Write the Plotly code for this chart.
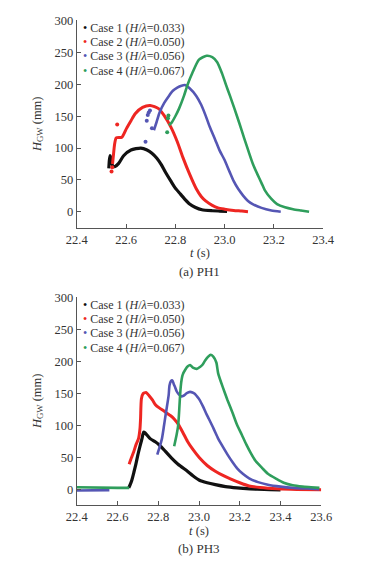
import plotly.graph_objects as go

# ---------------- DATA ----------------
# Panel (a) PH1
ph1_c1_t = [22.530, 22.532, 22.535, 22.538, 22.542, 22.548, 22.555, 22.570, 22.590, 22.620, 22.660, 22.685, 22.705,
            22.725, 22.743, 22.760, 22.782, 22.800, 22.820, 22.840, 22.858, 22.880, 22.908, 22.950, 22.980, 23.010]
ph1_c1_h = [68, 80, 88, 85, 76, 71, 71, 76, 88, 97, 100, 97, 92,
            84, 74, 62, 48, 37, 28, 19, 12, 7, 3, 1.5, 1, 0.5]

ph1_c2_t = [22.545, 22.549, 22.553, 22.560, 22.583, 22.602, 22.620, 22.637, 22.667, 22.698, 22.732, 22.755, 22.782,
            22.808, 22.831, 22.858, 22.885, 22.905, 22.923, 22.950, 22.973, 23.000, 23.037, 23.070, 23.095]
ph1_c2_h = [75, 90, 105, 116, 117, 131, 143, 154, 164, 167, 162, 151, 133,
            110, 85, 59, 36, 24, 17, 10, 6, 4, 2, 1, 0]
ph1_c2_pts_t = [22.541, 22.544, 22.564]
ph1_c2_pts_h = [63, 70, 137]

ph1_c3_t = [22.713, 22.724, 22.736, 22.755, 22.774, 22.790, 22.808, 22.825, 22.839, 22.858, 22.885, 22.905, 22.923,
            22.940, 22.961, 22.980, 22.999, 23.020, 23.037, 23.055, 23.076, 23.095, 23.114, 23.150, 23.190, 23.228]
ph1_c3_h = [128, 141, 156, 171, 182, 190, 195, 198, 199, 194, 182, 168, 151,
            133, 114, 96, 82, 63, 48, 36, 25, 17, 12, 6, 2, 0]
ph1_c3_pts_t = [22.679, 22.684, 22.688, 22.692, 22.697, 22.705]
ph1_c3_pts_h = [110, 143, 152, 156, 159, 131]

ph1_c4_t = [22.774, 22.785, 22.800, 22.815, 22.835, 22.850, 22.869, 22.896, 22.927, 22.950, 22.970, 22.990, 23.005,
            23.022, 23.040, 23.060, 23.080, 23.098, 23.115, 23.133, 23.150, 23.163, 23.190, 23.213, 23.245, 23.278,
            23.310, 23.343]
ph1_c4_h = [136, 140, 150, 162, 182, 200, 218, 239, 245, 243, 235, 217, 200,
            182, 162, 139, 115, 94, 75, 59, 45, 34, 20, 12, 7, 4,
            2, 0]
ph1_c4_pts_t = [22.767, 22.770, 22.772]
ph1_c4_pts_h = [125, 147, 151]

# Panel (b) PH3
ph3_c1_t = [22.655, 22.662, 22.670, 22.680, 22.690, 22.700, 22.710, 22.720, 22.728, 22.735, 22.760, 22.785, 22.805,
            22.835, 22.864, 22.897, 22.943, 22.970, 23.002, 23.040, 23.080, 23.130, 23.186, 23.250, 23.320, 23.400]
ph3_c1_h = [3, 8, 15, 27, 40, 55, 68, 80, 90, 89, 80, 75, 70,
            60, 50, 40, 29, 22, 15, 11, 8, 5, 3, 1.5, 0.5, 0]

ph3_c2_t = [22.657, 22.668, 22.680, 22.690, 22.703, 22.710, 22.713, 22.717, 22.725, 22.740, 22.755, 22.772, 22.786,
            22.805, 22.828, 22.850, 22.864, 22.880, 22.897, 22.920, 22.943, 22.970, 23.002, 23.040, 23.080, 23.120,
            23.154, 23.200, 23.246, 23.300, 23.384, 23.480, 23.600]
ph3_c2_h = [40, 50, 60, 70, 80, 95, 111, 142, 150, 152, 147, 140, 133,
            128, 123, 118, 115, 110, 103, 90, 76, 63, 50, 38, 29, 22,
            17, 11, 6, 3.5, 1.5, 0.5, 0]

ph3_c3_t = [22.795, 22.805, 22.818, 22.828, 22.835, 22.841, 22.851, 22.855, 22.862, 22.869, 22.876, 22.883, 22.890,
            22.901, 22.912, 22.924, 22.940, 22.956, 22.968, 22.979, 22.990, 23.002, 23.020, 23.034, 23.048, 23.071,
            23.094, 23.108, 23.140, 23.165, 23.186, 23.215, 23.246, 23.290, 23.338, 23.400, 23.462, 23.530, 23.590]
ph3_c3_h = [55, 65, 80, 100, 115, 127, 148, 163, 170, 171, 165, 160, 154,
            149, 146, 147, 151, 153, 152, 150, 146, 141, 130, 120, 111, 96,
            80, 72, 55, 43, 34, 25, 18, 12, 8, 5, 3, 2, 1]
ph3_c3_base_t = [22.40, 22.45, 22.50, 22.56]
ph3_c3_base_h = [-1, -1, -0.5, -0.5]

ph3_c4_t = [22.878, 22.890, 22.897, 22.901, 22.905, 22.910, 22.915, 22.920, 22.933, 22.945, 22.956, 22.970, 22.989,
            23.005, 23.016, 23.030, 23.045, 23.057, 23.070, 23.085, 23.094, 23.117, 23.140, 23.165, 23.186, 23.210,
            23.232, 23.255, 23.278, 23.310, 23.338, 23.380, 23.416, 23.460, 23.508, 23.550, 23.591]
ph3_c4_h = [68, 86, 99, 115, 137, 160, 173, 180, 188, 193, 195, 191, 189,
            192, 195, 202, 208, 211, 208, 199, 182, 160, 140, 120, 102, 86,
            71, 57, 45, 34, 25, 17, 11, 7, 5, 4, 3]
ph3_c4_base_t = [22.40, 22.50, 22.60, 22.657]
ph3_c4_base_h = [4, 3, 3, 3]

case_labels = ["Case 1 (<i>H</i>/<i>λ</i>=0.033)", "Case 2 (<i>H</i>/<i>λ</i>=0.050)",
               "Case 3 (<i>H</i>/<i>λ</i>=0.056)", "Case 4 (<i>H</i>/<i>λ</i>=0.067)"]
x_ticks_a = [22.4, 22.6, 22.8, 23.0, 23.2, 23.4]
x_ticks_b = [22.4, 22.6, 22.8, 23.0, 23.2, 23.4, 23.6]
y_ticks = [0, 50, 100, 150, 200, 250, 300]

# ---------------- STYLE ----------------
colors = ["#111111", "#ee2622", "#5556b4", "#2f9e5c"]
widths = [3.2, 3.0, 2.6, 2.6]
FONT = "Liberation Serif"
W, H = 384, 564


def px(x):
    return x / W


def py(y):
    return 1 - y / H


fig = go.Figure()

panel_a = [(ph1_c1_t, ph1_c1_h, None, None),
           (ph1_c2_t, ph1_c2_h, ph1_c2_pts_t, ph1_c2_pts_h),
           (ph1_c3_t, ph1_c3_h, ph1_c3_pts_t, ph1_c3_pts_h),
           (ph1_c4_t, ph1_c4_h, ph1_c4_pts_t, ph1_c4_pts_h)]
panel_b = [(ph3_c1_t, ph3_c1_h, None, None),
           (ph3_c2_t, ph3_c2_h, None, None),
           (ph3_c3_t, ph3_c3_h, ph3_c3_base_t, ph3_c3_base_h),
           (ph3_c4_t, ph3_c4_h, ph3_c4_base_t, ph3_c4_base_h)]

for i, (t, h, pt, ph) in enumerate(panel_a):
    fig.add_trace(go.Scatter(x=t, y=h, mode="lines",
                             line=dict(color=colors[i], width=widths[i], shape="spline", smoothing=0.6),
                             xaxis="x", yaxis="y", showlegend=False, name=case_labels[i]))
    if pt is not None:
        fig.add_trace(go.Scatter(x=pt, y=ph, mode="markers", marker=dict(color=colors[i], size=4),
                                 xaxis="x", yaxis="y", showlegend=False))

for i, (t, h, bt, bh) in enumerate(panel_b):
    fig.add_trace(go.Scatter(x=t, y=h, mode="lines",
                             line=dict(color=colors[i], width=widths[i], shape="spline", smoothing=0.6),
                             xaxis="x2", yaxis="y2", showlegend=False, name=case_labels[i]))
    if bt is not None:
        fig.add_trace(go.Scatter(x=bt, y=bh, mode="lines", line=dict(color=colors[i], width=widths[i]),
                                 xaxis="x2", yaxis="y2", showlegend=False))

axis_common = dict(showline=True, linecolor="#555555", linewidth=1.2, ticks="inside", ticklen=4,
                   tickcolor="#555555", showgrid=False, zeroline=False,
                   tickfont=dict(family=FONT, size=12.5, color="#333333"))

fig.update_layout(
    width=W, height=H, autosize=False,
    margin=dict(l=0, r=0, t=0, b=0),
    paper_bgcolor="white", plot_bgcolor="white",
    font=dict(family=FONT, size=12.5, color="#333333"),
    showlegend=False,
    xaxis=dict(domain=[px(70), px(332)], range=[22.4, 23.4], tickvals=x_ticks_a, tickformat=".1f",
               anchor="y", title=dict(text="<i>t</i> (s)", standoff=2, font=dict(family=FONT, size=12.5)),
               **axis_common),
    yaxis=dict(domain=[py(224), py(14)], range=[-25, 301.5], tickvals=y_ticks, anchor="x",
               title=dict(text="<i>H</i><sub>GW</sub> (mm)", standoff=10, font=dict(family=FONT, size=12.5)),
               **axis_common),
    xaxis2=dict(domain=[px(70), px(330)], range=[22.4, 23.6], tickvals=x_ticks_b, tickformat=".1f",
                anchor="y2", title=dict(text="<i>t</i> (s)", standoff=2, font=dict(family=FONT, size=12.5)),
                **axis_common),
    yaxis2=dict(domain=[py(504), py(294)], range=[-23.2, 301.5], tickvals=y_ticks, anchor="x2",
                title=dict(text="<i>H</i><sub>GW</sub> (mm)", standoff=10, font=dict(family=FONT, size=12.5)),
                **axis_common),
)

annotations = []
legend_rows_a = [22, 36.5, 51, 65.5]
legend_rows_b = [302, 316.5, 331, 345.5]
for rows in (legend_rows_a, legend_rows_b):
    for i, yy in enumerate(rows):
        annotations.append(dict(xref="paper", yref="paper", x=px(76), y=py(yy), xanchor="left", yanchor="middle",
                                showarrow=False, borderpad=0, valign="middle",
                                text=f"<span style='color:{colors[i]}'>•</span> {case_labels[i]}",
                                font=dict(family=FONT, size=12, color="#333333")))
annotations.append(dict(xref="paper", yref="paper", x=px(200), y=py(268), xanchor="center", yanchor="middle",
                        showarrow=False, text="(a) PH1", font=dict(family=FONT, size=13, color="#333333")))
annotations.append(dict(xref="paper", yref="paper", x=px(200), y=py(548), xanchor="center", yanchor="middle",
                        showarrow=False, text="(b) PH3", font=dict(family=FONT, size=13, color="#333333")))
fig.update_layout(annotations=annotations)

fig.write_html("out.html", config={"displayModeBar": False},
               post_script="document.body.style.margin='0';")
